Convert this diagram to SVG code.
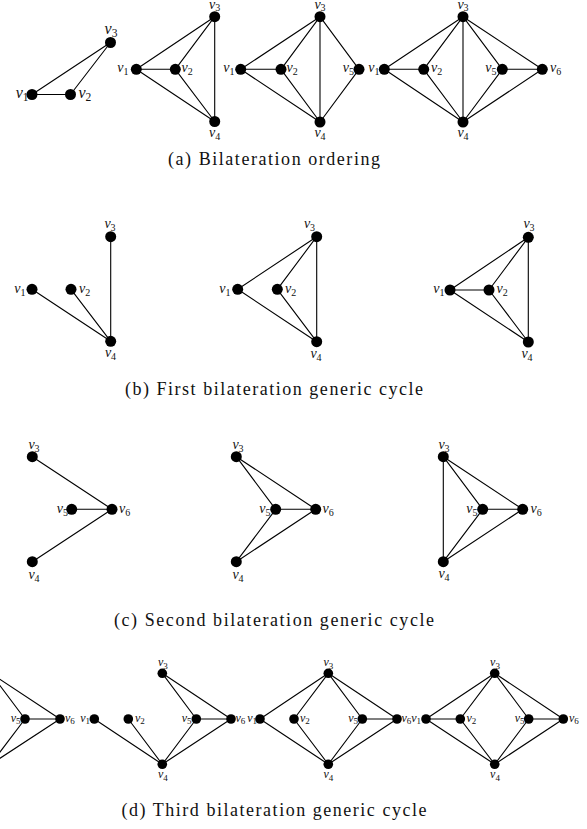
<svg xmlns="http://www.w3.org/2000/svg" width="587" height="829" viewBox="0 0 587 829">
<style>
  .e line { stroke:#000; stroke-width:1.1; stroke-linecap:round; }
  circle { fill:#000; }
  .lb { font-family:"Liberation Serif","Times New Roman",serif; font-style:italic; font-size:14px; fill:#111; }
  .lb tspan { font-style:normal; font-size:10px; }
  .big .lb { font-size:16px; }
  .big .lb tspan { font-size:11.5px; }
  .sm .lb { font-size:12px; }
  .sm .lb tspan { font-size:9px; }
  .cap { font-family:"Liberation Serif","Times New Roman",serif; font-size:18px; fill:#111; text-anchor:middle; }
  .l { text-anchor:end; }
  .c { text-anchor:middle; }
</style>
<rect width="587" height="829" fill="#fff"/>

<!-- (a) bilateration ordering: four graphs -->
<g id="a1" class="big">
  <g class="e">
    <line x1="32" y1="94.5" x2="70.5" y2="94.5"/>
    <line x1="32" y1="94.5" x2="110.5" y2="42.5"/>
    <line x1="70.5" y1="94.5" x2="110.5" y2="42.5"/>
  </g>
  <g id="a1-v1"><circle cx="32" cy="94.5" r="5.5"/><text class="lb l" x="28.5" y="98">v<tspan dy="3">1</tspan></text></g>
  <g id="a1-v2"><circle cx="70.5" cy="94.5" r="5.5"/><text class="lb" x="78.5" y="98">v<tspan dy="3">2</tspan></text></g>
  <g id="a1-v3"><circle cx="110.5" cy="42.5" r="5.5"/><text class="lb c" x="111" y="33.5">v<tspan dy="3">3</tspan></text></g>
</g>

<g id="a2">
  <g class="e">
    <line x1="136.3" y1="69.3" x2="175.3" y2="69.3"/>
    <line x1="136.3" y1="69.3" x2="214.7" y2="16.7"/>
    <line x1="136.3" y1="69.3" x2="214.7" y2="121.5"/>
    <line x1="175.3" y1="69.3" x2="214.7" y2="16.7"/>
    <line x1="175.3" y1="69.3" x2="214.7" y2="121.5"/>
    <line x1="214.7" y1="16.7" x2="214.7" y2="121.5"/>
  </g>
  <g id="a2-v1"><circle cx="136.3" cy="69.3" r="5.5"/><text class="lb l" x="128.5" y="71.5">v<tspan dy="3">1</tspan></text></g>
  <g id="a2-v2"><circle cx="175.3" cy="69.3" r="5.5"/><text class="lb" x="181.5" y="71.5">v<tspan dy="3">2</tspan></text></g>
  <g id="a2-v3"><circle cx="214.7" cy="16.7" r="5.5"/><text class="lb c" x="214.7" y="8.5">v<tspan dy="2.5">3</tspan></text></g>
  <g id="a2-v4"><circle cx="214.7" cy="121.5" r="5.5"/><text class="lb c" x="214.7" y="137">v<tspan dy="3">4</tspan></text></g>
</g>

<g id="a3">
  <g class="e">
    <line x1="240.7" y1="69.3" x2="281" y2="69.3"/>
    <line x1="240.7" y1="69.3" x2="320" y2="16.7"/>
    <line x1="240.7" y1="69.3" x2="320" y2="122"/>
    <line x1="281" y1="69.3" x2="320" y2="16.7"/>
    <line x1="281" y1="69.3" x2="320" y2="122"/>
    <line x1="320" y1="16.7" x2="320" y2="122"/>
    <line x1="320" y1="16.7" x2="359" y2="69.3"/>
    <line x1="320" y1="122" x2="359" y2="69.3"/>
  </g>
  <g id="a3-v1"><circle cx="240.7" cy="69.3" r="5.5"/><text class="lb l" x="234.5" y="71.5">v<tspan dy="3">1</tspan></text></g>
  <g id="a3-v2"><circle cx="281" cy="69.3" r="5.5"/><text class="lb" x="286.5" y="71.5">v<tspan dy="3">2</tspan></text></g>
  <g id="a3-v3"><circle cx="320" cy="16.7" r="5.5"/><text class="lb c" x="320" y="8.5">v<tspan dy="2.5">3</tspan></text></g>
  <g id="a3-v4"><circle cx="320" cy="122" r="5.5"/><text class="lb c" x="320" y="137">v<tspan dy="3">4</tspan></text></g>
  <g id="a3-v5"><circle cx="359" cy="69.3" r="5.5"/><text class="lb l" x="354" y="71.5">v<tspan dy="3">5</tspan></text></g>
</g>

<g id="a4">
  <g class="e">
    <line x1="384.3" y1="69.3" x2="423.7" y2="69.3"/>
    <line x1="384.3" y1="69.3" x2="463" y2="16.7"/>
    <line x1="384.3" y1="69.3" x2="463" y2="122"/>
    <line x1="423.7" y1="69.3" x2="463" y2="16.7"/>
    <line x1="423.7" y1="69.3" x2="463" y2="122"/>
    <line x1="463" y1="16.7" x2="463" y2="122"/>
    <line x1="463" y1="16.7" x2="502.3" y2="69.3"/>
    <line x1="463" y1="16.7" x2="542.3" y2="69.3"/>
    <line x1="463" y1="122" x2="502.3" y2="69.3"/>
    <line x1="463" y1="122" x2="542.3" y2="69.3"/>
    <line x1="502.3" y1="69.3" x2="542.3" y2="69.3"/>
  </g>
  <g id="a4-v1"><circle cx="384.3" cy="69.3" r="5.5"/><text class="lb l" x="379.5" y="71.5">v<tspan dy="3">1</tspan></text></g>
  <g id="a4-v2"><circle cx="423.7" cy="69.3" r="5.5"/><text class="lb" x="431" y="71.5">v<tspan dy="3">2</tspan></text></g>
  <g id="a4-v3"><circle cx="463" cy="16.7" r="5.5"/><text class="lb c" x="463" y="8.5">v<tspan dy="2.5">3</tspan></text></g>
  <g id="a4-v4"><circle cx="463" cy="122" r="5.5"/><text class="lb c" x="463" y="137">v<tspan dy="3">4</tspan></text></g>
  <g id="a4-v5"><circle cx="502.3" cy="69.3" r="5.5"/><text class="lb l" x="496.5" y="71.5">v<tspan dy="3">5</tspan></text></g>
  <g id="a4-v6"><circle cx="542.3" cy="69.3" r="5.5"/><text class="lb" x="550" y="71.5">v<tspan dy="3">6</tspan></text></g>
</g>

<text class="cap" x="274" y="165" textLength="212" lengthAdjust="spacing">(a) Bilateration ordering</text>

<!-- (b) first bilateration generic cycle -->
<g id="b1">
  <g class="e">
    <line x1="32" y1="289.3" x2="110.7" y2="341.3"/>
    <line x1="71" y1="289.3" x2="110.7" y2="341.3"/>
    <line x1="110.7" y1="236.7" x2="110.7" y2="341.3"/>
  </g>
  <g id="b1-v1"><circle cx="32" cy="289.3" r="5.5"/><text class="lb l" x="25.5" y="292.5">v<tspan dy="3">1</tspan></text></g>
  <g id="b1-v2"><circle cx="71" cy="289.3" r="5.5"/><text class="lb" x="79" y="292.5">v<tspan dy="3">2</tspan></text></g>
  <g id="b1-v3"><circle cx="110.7" cy="236.7" r="5.5"/><text class="lb c" x="110" y="227.5">v<tspan dy="3">3</tspan></text></g>
  <g id="b1-v4"><circle cx="110.7" cy="341.3" r="5.5"/><text class="lb c" x="110.5" y="357">v<tspan dy="3">4</tspan></text></g>
</g>

<g id="b2">
  <g class="e">
    <line x1="237.7" y1="289.3" x2="316.7" y2="236.7"/>
    <line x1="237.7" y1="289.3" x2="316.7" y2="341.7"/>
    <line x1="277.3" y1="289.3" x2="316.7" y2="236.7"/>
    <line x1="277.3" y1="289.3" x2="316.7" y2="341.7"/>
    <line x1="316.7" y1="236.7" x2="316.7" y2="341.7"/>
  </g>
  <g id="b2-v1"><circle cx="237.7" cy="289.3" r="5.5"/><text class="lb l" x="230.5" y="292.5">v<tspan dy="3">1</tspan></text></g>
  <g id="b2-v2"><circle cx="277.3" cy="289.3" r="5.5"/><text class="lb" x="285" y="292.5">v<tspan dy="3">2</tspan></text></g>
  <g id="b2-v3"><circle cx="316.7" cy="236.7" r="5.5"/><text class="lb c" x="309.5" y="228">v<tspan dy="3">3</tspan></text></g>
  <g id="b2-v4"><circle cx="316.7" cy="341.7" r="5.5"/><text class="lb c" x="316" y="358">v<tspan dy="3">4</tspan></text></g>
</g>

<g id="b3">
  <g class="e">
    <line x1="450" y1="290" x2="489" y2="290"/>
    <line x1="450" y1="290" x2="528.3" y2="237.3"/>
    <line x1="450" y1="290" x2="528.3" y2="342"/>
    <line x1="489" y1="290" x2="528.3" y2="237.3"/>
    <line x1="489" y1="290" x2="528.3" y2="342"/>
    <line x1="528.3" y1="237.3" x2="528.3" y2="342"/>
  </g>
  <g id="b3-v1"><circle cx="450" cy="290" r="5.5"/><text class="lb l" x="444.5" y="293">v<tspan dy="3">1</tspan></text></g>
  <g id="b3-v2"><circle cx="489" cy="290" r="5.5"/><text class="lb" x="496.5" y="293">v<tspan dy="3">2</tspan></text></g>
  <g id="b3-v3"><circle cx="528.3" cy="237.3" r="5.5"/><text class="lb c" x="529" y="228">v<tspan dy="3">3</tspan></text></g>
  <g id="b3-v4"><circle cx="528.3" cy="342" r="5.5"/><text class="lb c" x="527" y="358">v<tspan dy="3">4</tspan></text></g>
</g>

<text class="cap" x="274" y="395" textLength="298" lengthAdjust="spacing">(b) First bilateration generic cycle</text>

<!-- (c) second bilateration generic cycle -->
<g id="c1">
  <g class="e">
    <line x1="32.3" y1="456.7" x2="112" y2="509.3"/>
    <line x1="32.3" y1="561.7" x2="112" y2="509.3"/>
    <line x1="71.7" y1="509.3" x2="112" y2="509.3"/>
  </g>
  <g id="c1-v3"><circle cx="32.3" cy="456.7" r="5.5"/><text class="lb c" x="34" y="449">v<tspan dy="3">3</tspan></text></g>
  <g id="c1-v4"><circle cx="32.3" cy="561.7" r="5.5"/><text class="lb c" x="34" y="578.5">v<tspan dy="3">4</tspan></text></g>
  <g id="c1-v5"><circle cx="71.7" cy="509.3" r="5.5"/><text class="lb l" x="68" y="512.5">v<tspan dy="3">5</tspan></text></g>
  <g id="c1-v6"><circle cx="112" cy="509.3" r="5.5"/><text class="lb" x="119" y="512.5">v<tspan dy="3">6</tspan></text></g>
</g>

<g id="c2">
  <g class="e">
    <line x1="236.3" y1="456.7" x2="275.7" y2="509.3"/>
    <line x1="236.3" y1="456.7" x2="315.7" y2="509.3"/>
    <line x1="236.3" y1="561.7" x2="275.7" y2="509.3"/>
    <line x1="236.3" y1="561.7" x2="315.7" y2="509.3"/>
    <line x1="275.7" y1="509.3" x2="315.7" y2="509.3"/>
  </g>
  <g id="c2-v3"><circle cx="236.3" cy="456.7" r="5.5"/><text class="lb c" x="238" y="449">v<tspan dy="3">3</tspan></text></g>
  <g id="c2-v4"><circle cx="236.3" cy="561.7" r="5.5"/><text class="lb c" x="238" y="578.5">v<tspan dy="3">4</tspan></text></g>
  <g id="c2-v5"><circle cx="275.7" cy="509.3" r="5.5"/><text class="lb l" x="270.5" y="512.5">v<tspan dy="3">5</tspan></text></g>
  <g id="c2-v6"><circle cx="315.7" cy="509.3" r="5.5"/><text class="lb" x="322.5" y="512.5">v<tspan dy="3">6</tspan></text></g>
</g>

<g id="c3">
  <g class="e">
    <line x1="443.3" y1="456.7" x2="443.3" y2="561.7"/>
    <line x1="443.3" y1="456.7" x2="482.7" y2="509.3"/>
    <line x1="443.3" y1="456.7" x2="522.7" y2="509.3"/>
    <line x1="443.3" y1="561.7" x2="482.7" y2="509.3"/>
    <line x1="443.3" y1="561.7" x2="522.7" y2="509.3"/>
    <line x1="482.7" y1="509.3" x2="522.7" y2="509.3"/>
  </g>
  <g id="c3-v3"><circle cx="443.3" cy="456.7" r="5.5"/><text class="lb c" x="444" y="448.5">v<tspan dy="3">3</tspan></text></g>
  <g id="c3-v4"><circle cx="443.3" cy="561.7" r="5.5"/><text class="lb c" x="444" y="578">v<tspan dy="3">4</tspan></text></g>
  <g id="c3-v5"><circle cx="482.7" cy="509.3" r="5.5"/><text class="lb l" x="477.5" y="512.5">v<tspan dy="3">5</tspan></text></g>
  <g id="c3-v6"><circle cx="522.7" cy="509.3" r="5.5"/><text class="lb" x="530.5" y="512.5">v<tspan dy="3">6</tspan></text></g>
</g>

<text class="cap" x="274" y="626" textLength="320" lengthAdjust="spacing">(c) Second bilateration generic cycle</text>

<!-- (d) third bilateration generic cycle -->
<g id="d1" class="sm">
  <g class="e">
    <line x1="-9.3" y1="673.3" x2="25" y2="719"/>
    <line x1="-9.3" y1="673.3" x2="60" y2="719"/>
    <line x1="-9.3" y1="764.3" x2="25" y2="719"/>
    <line x1="-9.3" y1="764.3" x2="60" y2="719"/>
    <line x1="25" y1="719" x2="60" y2="719"/>
  </g>
  <g id="d1-v5"><circle cx="25" cy="719" r="4.8"/><text class="lb l" x="20.5" y="721.5">v<tspan dy="2.5">5</tspan></text></g>
  <g id="d1-v6"><circle cx="60" cy="719" r="4.8"/><text class="lb" x="65" y="721.5">v<tspan dy="2.5">6</tspan></text></g>
</g>

<g id="d2" class="sm">
  <g class="e">
    <line x1="94.3" y1="719" x2="162.3" y2="764.3"/>
    <line x1="128.3" y1="719" x2="162.3" y2="764.3"/>
    <line x1="162.3" y1="673.3" x2="196.3" y2="719"/>
    <line x1="162.3" y1="673.3" x2="231" y2="719"/>
    <line x1="162.3" y1="764.3" x2="196.3" y2="719"/>
    <line x1="162.3" y1="764.3" x2="231" y2="719"/>
    <line x1="196.3" y1="719" x2="231" y2="719"/>
  </g>
  <g id="d2-v1"><circle cx="94.3" cy="719" r="4.8"/><text class="lb l" x="90" y="721.5">v<tspan dy="2.5">1</tspan></text></g>
  <g id="d2-v2"><circle cx="128.3" cy="719" r="4.8"/><text class="lb" x="135" y="721.5">v<tspan dy="2.5">2</tspan></text></g>
  <g id="d2-v3"><circle cx="162.3" cy="673.3" r="4.8"/><text class="lb c" x="162.8" y="666">v<tspan dy="2.5">3</tspan></text></g>
  <g id="d2-v4"><circle cx="162.3" cy="764.3" r="4.8"/><text class="lb c" x="162.8" y="778">v<tspan dy="2.5">4</tspan></text></g>
  <g id="d2-v5"><circle cx="196.3" cy="719" r="4.8"/><text class="lb l" x="191.5" y="721.5">v<tspan dy="2.5">5</tspan></text></g>
  <g id="d2-v6"><circle cx="231" cy="719" r="4.8"/><text class="lb" x="235.5" y="721.5">v<tspan dy="2.5">6</tspan></text></g>
</g>

<g id="d3" class="sm">
  <g class="e">
    <line x1="260" y1="719" x2="328.3" y2="673.3"/>
    <line x1="260" y1="719" x2="328.3" y2="764.3"/>
    <line x1="294" y1="719" x2="328.3" y2="673.3"/>
    <line x1="294" y1="719" x2="328.3" y2="764.3"/>
    <line x1="328.3" y1="673.3" x2="362.3" y2="719"/>
    <line x1="328.3" y1="673.3" x2="397" y2="719"/>
    <line x1="328.3" y1="764.3" x2="362.3" y2="719"/>
    <line x1="328.3" y1="764.3" x2="397" y2="719"/>
    <line x1="362.3" y1="719" x2="397" y2="719"/>
  </g>
  <g id="d3-v1"><circle cx="260" cy="719" r="4.8"/><text class="lb l" x="257" y="721.5">v<tspan dy="2.5">1</tspan></text></g>
  <g id="d3-v2"><circle cx="294" cy="719" r="4.8"/><text class="lb" x="300" y="721.5">v<tspan dy="2.5">2</tspan></text></g>
  <g id="d3-v3"><circle cx="328.3" cy="673.3" r="4.8"/><text class="lb c" x="328.3" y="666">v<tspan dy="2.5">3</tspan></text></g>
  <g id="d3-v4"><circle cx="328.3" cy="764.3" r="4.8"/><text class="lb c" x="328.3" y="778">v<tspan dy="2.5">4</tspan></text></g>
  <g id="d3-v5"><circle cx="362.3" cy="719" r="4.8"/><text class="lb l" x="358" y="721.5">v<tspan dy="2.5">5</tspan></text></g>
  <g id="d3-v6"><circle cx="397" cy="719" r="4.8"/><text class="lb" x="401.5" y="721.5">v<tspan dy="2.5">6</tspan></text></g>
</g>

<g id="d4" class="sm">
  <g class="e">
    <line x1="426" y1="719" x2="460.3" y2="719"/>
    <line x1="426" y1="719" x2="494.7" y2="673.3"/>
    <line x1="426" y1="719" x2="494.7" y2="764.3"/>
    <line x1="460.3" y1="719" x2="494.7" y2="673.3"/>
    <line x1="460.3" y1="719" x2="494.7" y2="764.3"/>
    <line x1="494.7" y1="673.3" x2="528.7" y2="719"/>
    <line x1="494.7" y1="673.3" x2="563.3" y2="719"/>
    <line x1="494.7" y1="764.3" x2="528.7" y2="719"/>
    <line x1="494.7" y1="764.3" x2="563.3" y2="719"/>
    <line x1="528.7" y1="719" x2="563.3" y2="719"/>
  </g>
  <g id="d4-v1"><circle cx="426" cy="719" r="4.8"/><text class="lb l" x="421" y="721.5">v<tspan dy="2.5">1</tspan></text></g>
  <g id="d4-v2"><circle cx="460.3" cy="719" r="4.8"/><text class="lb" x="466.5" y="721.5">v<tspan dy="2.5">2</tspan></text></g>
  <g id="d4-v3"><circle cx="494.7" cy="673.3" r="4.8"/><text class="lb c" x="495" y="666">v<tspan dy="2.5">3</tspan></text></g>
  <g id="d4-v4"><circle cx="494.7" cy="764.3" r="4.8"/><text class="lb c" x="495" y="778">v<tspan dy="2.5">4</tspan></text></g>
  <g id="d4-v5"><circle cx="528.7" cy="719" r="4.8"/><text class="lb l" x="524.5" y="721.5">v<tspan dy="2.5">5</tspan></text></g>
  <g id="d4-v6"><circle cx="563.3" cy="719" r="4.8"/><text class="lb" x="569" y="721.5">v<tspan dy="2.5">6</tspan></text></g>
</g>

<text class="cap" x="274" y="816" textLength="305" lengthAdjust="spacing">(d) Third bilateration generic cycle</text>
</svg>
